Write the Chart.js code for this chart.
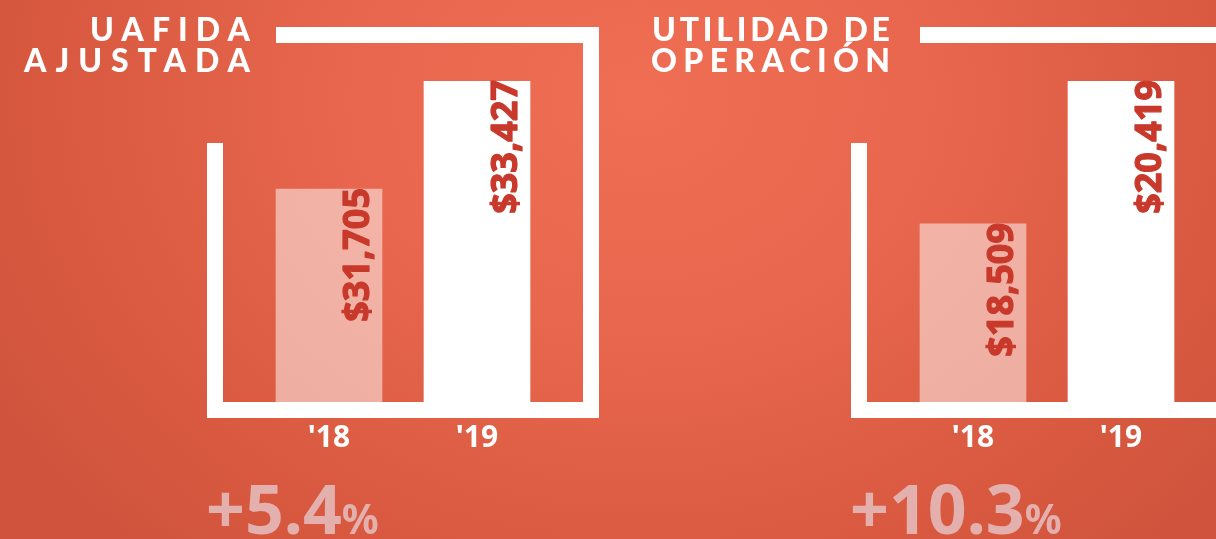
<!DOCTYPE html>
<html><head><meta charset="utf-8">
<script src="https://cdn.jsdelivr.net/npm/chart.js@4.4.1/dist/chart.umd.min.js"></script>
<style>
html,body{margin:0;padding:0;width:1216px;height:539px;overflow:hidden;}
body{position:relative;background:radial-gradient(ellipse 760px 620px at 640px 100px,#f06e53 0%,#e7664d 40%,#d8593f 78%,#cf533d 100%);}
.panel{position:absolute;top:0;width:608px;height:539px;}
.panel canvas{position:absolute;left:0;top:0;}
.title{position:absolute;top:13px;font-family:Lato,sans-serif;font-weight:900;font-size:32px;line-height:31px;color:#fff;text-align:right;white-space:nowrap;}
.title span{display:inline-block;}
.pct{position:absolute;left:206px;top:474px;font-family:'Noto Sans',sans-serif;font-weight:700;font-size:68px;line-height:68px;color:#e3b0ae;white-space:nowrap;}
.pct span{font-size:41px;}
</style></head>
<body>
<div class="panel" id="p0" style="left:0px"><canvas id="c0" width="608" height="539"></canvas><div class="title" id="t0" style="right:358px"></div><div class="pct" id="g0"></div></div>
<div class="panel" id="p1" style="left:644px"><canvas id="c1" width="608" height="539"></canvas><div class="title" id="t1" style="right:362px"></div><div class="pct" id="g1"></div></div>
<script>
const categories = ["'18", "'19"];
const uafidaValues = [31705, 33427];
const utilidadValues = [18509, 20419];
const titleUafida = ["UAFIDA", "AJUSTADA"];
const titleUtilidad = ["UTILIDAD DE", "OPERACIÓN"];
const axisMin = [28310, 16130];
const axisMax = [33427, 20419];
// visual widths of the title lines in the reference (layout, px)
const titleLineWidths = [[160, 226], [238, 239]];

const framePlugin = {
  id: 'frame',
  beforeDatasetsDraw(chart) {
    const {ctx, chartArea: a} = chart;
    const t = 16;
    const L = a.left - 48, R = a.right + 48, B = a.bottom, T = a.top - 54;
    ctx.save();
    ctx.fillStyle = '#ffffff';
    ctx.fillRect(L, a.top + 62, t, B + t - (a.top + 62));
    ctx.fillRect(L, B, R - L, t);
    ctx.fillRect(R - t, T, t, B + t - T);
    ctx.fillRect(a.left + 21, T, R - (a.left + 21), t);
    ctx.restore();
  }
};
const valueLabelPlugin = {
  id: 'valueLabels',
  afterDatasetsDraw(chart) {
    const {ctx} = chart;
    const meta = chart.getDatasetMeta(0);
    const data = chart.data.datasets[0].data;
    ctx.save();
    ctx.font = 'bold 36px "Noto Sans"';
    ctx.fillStyle = '#c8392b';
    ctx.strokeStyle = '#c8392b';
    ctx.lineWidth = 1.2;
    ctx.lineJoin = 'round';
    ctx.textAlign = 'right';
    ctx.textBaseline = 'alphabetic';
    meta.data.forEach((bar, i) => {
      const txt = '$' + data[i].toLocaleString('en-US');
      ctx.save();
      ctx.translate(bar.x + bar.width / 2 - 13, bar.y - 1);
      ctx.rotate(-Math.PI / 2);
      ctx.fillText(txt, 0, 0);
      ctx.strokeText(txt, 0, 0);
      ctx.restore();
    });
    ctx.restore();
  }
};

function makeChart(id, values, k) {
  return new Chart(document.getElementById(id), {
    type: 'bar',
    data: {
      labels: categories,
      datasets: [{
        data: values,
        backgroundColor: ['rgba(255,255,255,0.5)', '#ffffff'],
        borderWidth: 0,
        barThickness: 106
      }]
    },
    options: {
      responsive: false,
      animation: false,
      layout: {padding: {top: 81, bottom: 65, left: 255, right: 57}},
      plugins: {legend: {display: false}, tooltip: {enabled: false}, title: {display: false}},
      scales: {
        x: {
          grid: {display: false, drawTicks: false},
          border: {display: false},
          ticks: {color: '#ffffff', padding: 18, font: {family: 'Noto Sans', weight: 'bold', size: 30}}
        },
        y: {display: false, min: axisMin[k], max: axisMax[k]}
      }
    },
    plugins: [framePlugin, valueLabelPlugin]
  });
}
makeChart('c0', uafidaValues, 0);
makeChart('c1', utilidadValues, 1);

function setTitle(el, lines, widths) {
  el.innerHTML = '';
  lines.forEach((line, i) => {
    const s = document.createElement('span');
    s.textContent = line;
    el.appendChild(s);
    if (i < lines.length - 1) el.appendChild(document.createElement('br'));
    const natural = s.getBoundingClientRect().width;
    const n = [...line].length;
    const ls = (widths[i] - natural) / (n - 1);
    s.style.letterSpacing = ls + 'px';
    s.style.marginRight = (-ls) + 'px';
  });
}
function growth(v) { return '+' + ((v[1] / v[0] - 1) * 100).toFixed(1); }
setTitle(document.getElementById('t0'), titleUafida, titleLineWidths[0]);
setTitle(document.getElementById('t1'), titleUtilidad, titleLineWidths[1]);
document.getElementById('g0').innerHTML = growth(uafidaValues) + '<span>%</span>';
document.getElementById('g1').innerHTML = growth(utilidadValues) + '<span>%</span>';
</script>
</body></html>
